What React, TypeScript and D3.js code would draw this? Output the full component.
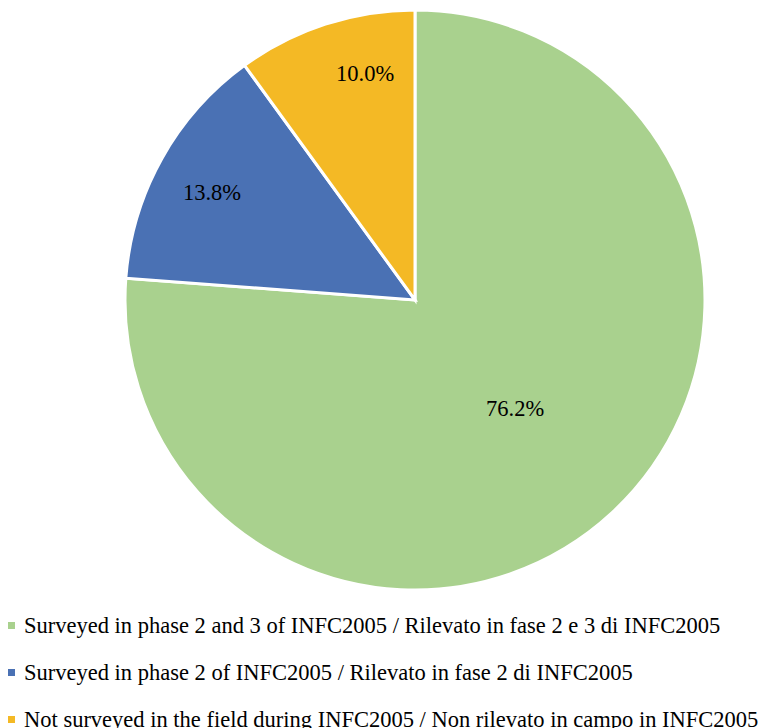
import * as d3 from 'd3';
import React, { useRef, useEffect } from 'react';

// slice data, clockwise from 12 o'clock
const categories = [
  'Surveyed in phase 2 and 3 of INFC2005 / Rilevato in fase 2 e 3 di INFC2005',
  'Surveyed in phase 2 of INFC2005 / Rilevato in fase 2 di INFC2005',
  'Not surveyed in the field during INFC2005 / Non rilevato in campo in INFC2005',
];
const shares = [76.2, 13.8, 10.0];
const colors = ['#a9d18e', '#4a71b4', '#f4b925'];

const FONT = 'Liberation Serif';

export default function App() {
  const ref = useRef<SVGSVGElement>(null);

  useEffect(() => {
    const width = 764;
    const height = 728;
    const cx = 415;
    const cy = 300;
    const radius = 290;
    // excel "best fit" label placement: depth (fraction of r) and angle nudge (deg)
    const labelDepth = [0.508, 0.793, 0.80];
    const labelNudge = [0, -1.1, 5.6];

    const svg = d3.select(ref.current);
    svg.selectAll('*').remove();
    svg.attr('width', width).attr('height', height);

    const data = shares.map((v, i) => ({ name: categories[i], value: v, color: colors[i] }));

    const pie = d3.pie<any>().value(d => d.value).sort(null);
    const arcs = pie(data);
    const arc = d3.arc<any>().innerRadius(0).outerRadius(radius);

    const g = svg.append('g').attr('transform', `translate(${cx},${cy})`);

    g.selectAll('path')
      .data(arcs)
      .enter()
      .append('path')
      .attr('d', arc)
      .attr('fill', d => d.data.color)
      .attr('stroke', '#fff')
      .attr('stroke-width', 3);

    g.selectAll('text.lbl')
      .data(arcs)
      .enter()
      .append('text')
      .attr('class', 'lbl')
      .attr('transform', (d, i) => {
        const r = radius * labelDepth[i];
        const a = (d.startAngle + d.endAngle) / 2 + (labelNudge[i] * Math.PI) / 180;
        return `translate(${r * Math.sin(a)},${-r * Math.cos(a)})`;
      })
      .attr('text-anchor', 'middle')
      .attr('dy', '0.35em')
      .attr('font-family', FONT)
      .attr('font-size', 22.5)
      .attr('fill', '#000')
      .text(d => d.data.value.toFixed(1) + '%');

    // legend
    const legend = svg.append('g').attr('transform', 'translate(8,633)');
    const rows = legend.selectAll('g')
      .data(data)
      .enter()
      .append('g')
      .attr('transform', (d, i) => `translate(0,${i * 47})`);
    rows.append('rect')
      .attr('x', 0)
      .attr('y', -11)
      .attr('width', 7)
      .attr('height', 7)
      .attr('fill', d => d.color);
    rows.append('text')
      .attr('x', 16)
      .attr('y', 0)
      .attr('font-family', FONT)
      .attr('font-size', 22.5)
      .attr('fill', '#000')
      .text(d => d.name);
  }, []);

  return (
    <div style={{ position: 'absolute', left: 0, top: 0 }}>
      <svg ref={ref}></svg>
    </div>
  );
}
